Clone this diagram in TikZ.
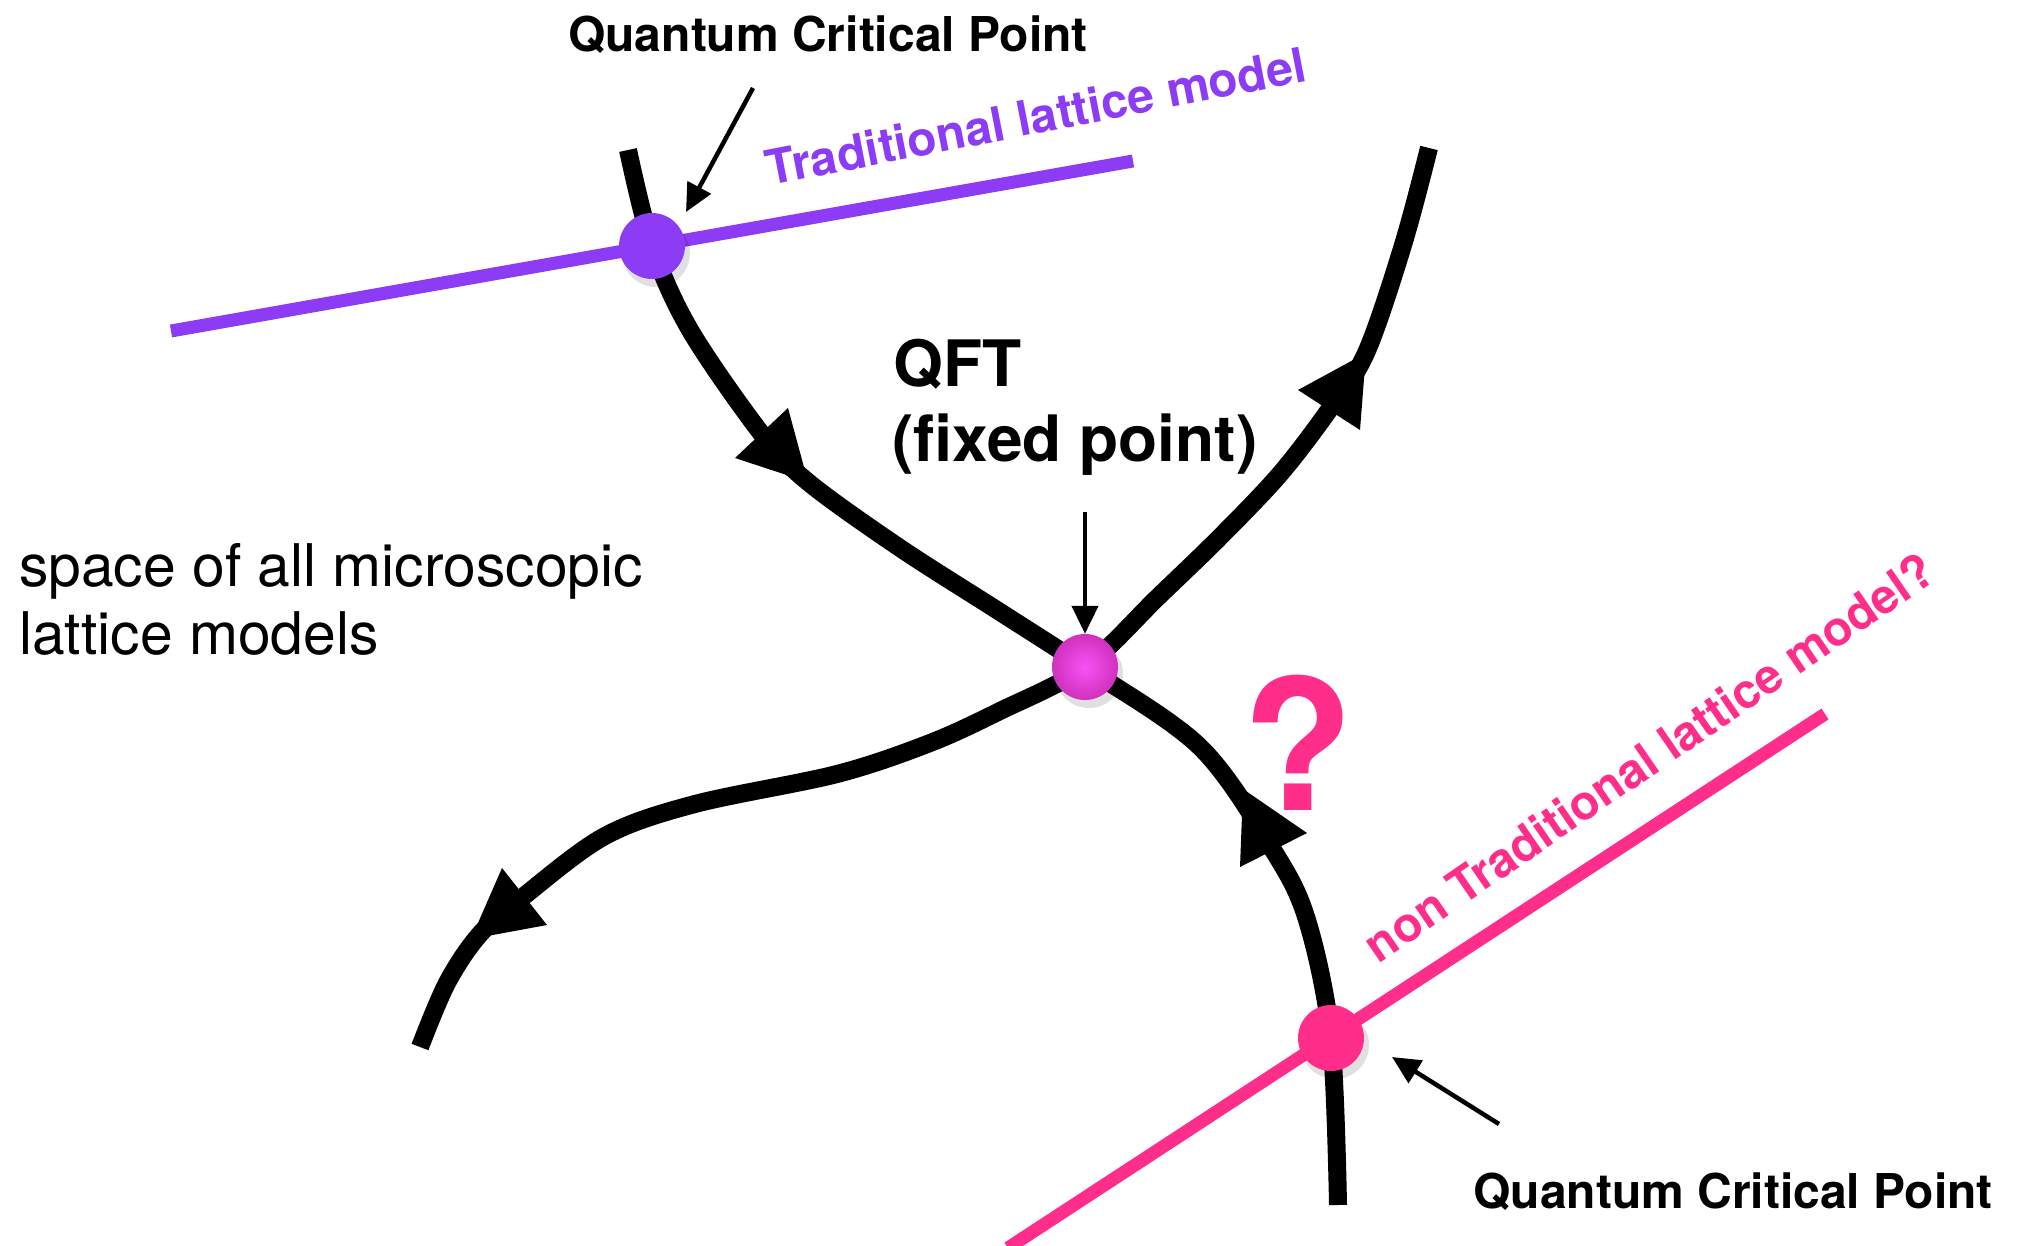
\documentclass[tikz,border=0pt]{standalone}
\usepackage{fontspec}
\setmainfont{TeX Gyre Heros}
\usetikzlibrary{arrows.meta}
\definecolor{qpurple}{RGB}{141,60,246}
\definecolor{qpink}{RGB}{255,46,138}
\definecolor{ballin}{RGB}{248,82,245}
\definecolor{ballmid}{RGB}{215,55,200}
\definecolor{ballout}{RGB}{170,30,140}
\pgfdeclareradialshading{qftball}{\pgfpoint{0bp}{0bp}}{color(0bp)=(ballin); color(20bp)=(ballmid); color(50bp)=(ballout); color(60bp)=(ballout)}
\tikzset{
  flow/.style={line width=18pt, line cap=butt, black},
  head/.style={fill=black, draw=none},
  pointer/.style={line width=4.5pt, -{Triangle[length=28pt,width=26pt]}},
  dotshadow/.style={fill=black, opacity=0.12, draw=none},
  lbl/.style={font=\fontsize{48}{57}\selectfont\bfseries, inner sep=0pt},
}
\begin{document}
\begin{tikzpicture}[x=1pt,y=-1pt]
\useasboundingbox (0,0) rectangle (2018,1246);

% model lines
\draw[qpurple, line width=13pt] (171,331) -- (1133,161);
\draw[qpink, line width=13pt] (1008,1248) -- (1825,714);

% RG flow curves
\draw[flow] plot[smooth, tension=0.55] coordinates {(628,150) (652,246) (690,330) (761,433) (808,482) (900,548) (1000,612) (1085,667) (1200,747) (1273,850) (1307,920) (1331,1038) (1338,1205)};
\draw[flow] plot[smooth, tension=0.55] coordinates {(1429,148) (1403,245) (1366,353) (1329,410) (1280,474) (1220,537) (1158,597) (1085,667) (1000,711) (930,743) (837,774) (695,804) (605,836) (524,896) (480,934) (447,983) (420,1047)};

% arrowheads
\fill[head] (735,458) -- (788,408) -- (808,482) -- cycle;
\fill[head] (1307,833) -- (1240,867) -- (1243,789) -- cycle;
\fill[head] (1298,390) -- (1360,430) -- (1366,353) -- cycle;
\fill[head] (502,868) -- (547,925) -- (471,939) -- cycle;

% points
\fill[dotshadow] (656,253) circle (34);
\fill[dotshadow] (1089,674) circle (34);
\fill[dotshadow] (1335,1045) circle (34);
\node[circle, fill=qpurple, minimum size=66pt, inner sep=0pt] (qcp1) at (652,246) {};
\node[circle, fill=qpink, minimum size=66pt, inner sep=0pt] (qcp2) at (1331,1038) {};
\node[circle, shading=qftball, minimum size=66pt, inner sep=0pt] (fp) at (1085,667) {};

% labels
\node[lbl, anchor=base] (qcpl1) at (828,52) {Quantum Critical Point};
\node[lbl, anchor=base] (qcpl2) at (1733,1208) {Quantum Critical Point};
\node[lbl, text=qpurple, rotate=11] (tlm) at (1036,116) {Traditional lattice model};
\node[lbl, text=qpink, rotate=34.5] (ntlm) at (1649,757) {non Traditional lattice model?};
\node[font=\fontsize{64}{78}\selectfont\bfseries, anchor=base west, inner sep=0pt] (qft) at (893,386) {QFT};
\node[font=\fontsize{64}{78}\selectfont\bfseries, anchor=base west, inner sep=0pt] (fpl) at (892,461) {(fixed point)};
\node[font=\fontsize{58.8}{68}\selectfont, anchor=base west, inner sep=0pt] (sp1) at (19,586) {space of all microscopic};
\node[font=\fontsize{58.8}{68}\selectfont, anchor=base west, inner sep=0pt] (sp2) at (19,654) {lattice models};
\node[font=\fontsize{182}{200}\selectfont\bfseries, text=qpink, anchor=base, inner sep=0pt] (qm) at (1298,810) {?};

% pointers
\coordinate (p1s) at (753,88);
\coordinate (p1e) at (686,212);
\coordinate (p2s) at (1085,512);
\coordinate (p3s) at (1499,1124);
\coordinate (p3e) at (1392,1057);
\draw[pointer] (p1s) -- (p1e);
\draw[pointer] (p2s) -- (fp.north);
\draw[pointer] (p3s) -- (p3e);
\end{tikzpicture}
\end{document}
